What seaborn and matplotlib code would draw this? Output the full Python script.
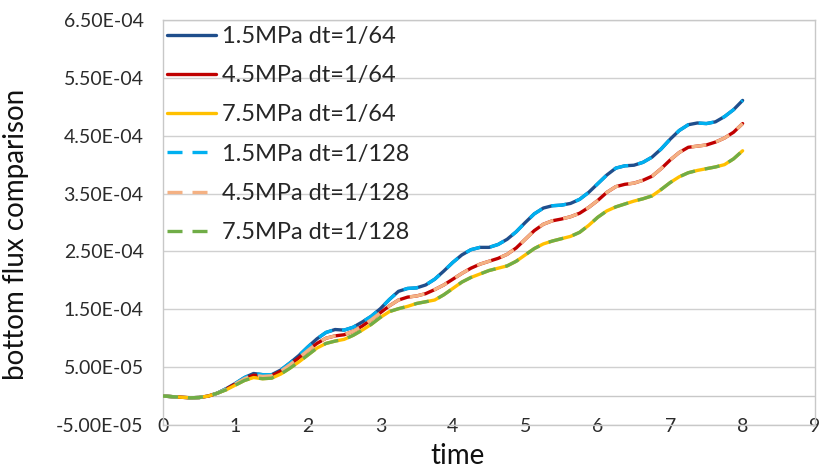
import matplotlib
matplotlib.use("Agg")
import matplotlib.pyplot as plt
import seaborn as sns
import numpy as np
import pandas as pd

# ---------------- Data (flux, in 1e-6 units) ----------------
time = [0, 0.125, 0.25, 0.375, 0.5, 0.625, 0.75, 0.875,
        1, 1.125, 1.25, 1.375, 1.5, 1.625, 1.75, 1.875,
        2, 2.125, 2.25, 2.375, 2.5, 2.625, 2.75, 2.875,
        3, 3.125, 3.25, 3.375, 3.5, 3.625, 3.75, 3.875,
        4, 4.125, 4.25, 4.375, 4.5, 4.625, 4.75, 4.875,
        5, 5.125, 5.25, 5.375, 5.5, 5.625, 5.75, 5.875,
        6, 6.125, 6.25, 6.375, 6.5, 6.625, 6.75, 6.875,
        7, 7.125, 7.25, 7.375, 7.5, 7.625, 7.75, 7.875, 8]

flux_15 = [0, -1, -2, -3, -2.5, 0, 5, 13, 22,
           32, 39, 37, 37, 45, 57, 70, 85,
           99, 110, 115, 114, 119, 128, 138, 151,
           167, 181, 186, 187, 192, 202, 216, 231,
           244, 253, 257, 257, 262, 271, 284, 300,
           315, 325, 329, 330, 333, 340, 352, 367,
           382, 394, 398, 399, 404, 413, 427, 444,
           459, 469, 472, 471, 474, 483, 495, 511]

flux_45 = [0, -1, -2, -3, -2.5, 0, 5, 12, 21,
           30, 36, 34, 35, 43, 54, 66, 79,
           91, 100, 104, 106, 112, 121, 132, 144,
           156, 166, 171, 173, 177, 184, 192, 202,
           212, 221, 228, 233, 238, 245, 256, 271,
           286, 297, 303, 306, 310, 316, 326, 338,
           352, 362, 366, 368, 373, 380, 393, 408,
           421, 430, 432, 434, 439, 446, 456, 471]

flux_75 = [0, -1, -2, -3, -2.5, 0, 5, 11, 19,
           27, 32, 30, 31, 38, 48, 59, 71,
           83, 91, 95, 98, 105, 114, 124, 136,
           146, 151, 155, 160, 163, 166, 175, 186,
           197, 205, 211, 217, 221, 225, 233, 244,
           255, 263, 268, 272, 276, 283, 295, 309,
           320, 327, 332, 337, 341, 346, 357, 369,
           379, 386, 390, 393, 396, 400, 410, 424]

# dt=1/128 runs lie on top of the dt=1/64 runs
flux_15_fine = list(flux_15)
flux_45_fine = list(flux_45)
flux_75_fine = list(flux_75)

labels = ["1.5MPa dt=1/64", "4.5MPa dt=1/64", "7.5MPa dt=1/64",
          "1.5MPa dt=1/128", "4.5MPa dt=1/128", "7.5MPa dt=1/128"]
series = [flux_15, flux_45, flux_75, flux_15_fine, flux_45_fine, flux_75_fine]
colors = ["#1F4E8C", "#C00000", "#FFC000", "#00B0F0", "#F4B183", "#70AD47"]

y_ticks = [-5e-5, 5e-5, 1.5e-4, 2.5e-4, 3.5e-4, 4.5e-4, 5.5e-4, 6.5e-4]
x_ticks = [0, 1, 2, 3, 4, 5, 6, 7, 8, 9]

# ---------------- Plot ----------------
sns.set_theme(style="white")
plt.rcParams["font.family"] = ["Lato", "DejaVu Sans"]

fig = plt.figure(figsize=(8.3, 4.73), dpi=100)
ax = fig.add_axes([0.1964, 0.1015, 0.7856, 0.8562])

for i, (lab, vals, col) in enumerate(zip(labels, series, colors)):
    df = pd.DataFrame({"time": time, "flux": np.array(vals) * 1e-6})
    line_ax = sns.lineplot(data=df, x="time", y="flux", ax=ax, color=col,
                           linewidth=2.4, label=lab, zorder=3 + i)
    if i >= 3:
        line_ax.lines[-1].set_dashes((4.5, 3.0))

ax.set_xlim(0, 9)
ax.set_ylim(-5e-5, 6.5e-4)
ax.set_xticks(x_ticks)
ax.set_yticks(y_ticks)
ax.set_yticklabels(["{:.2E}".format(v) for v in y_ticks])

ax.grid(axis="y", color="#D0D0D0", linewidth=1.0)
ax.axhline(0, color="#C8C8C8", linewidth=1.0, zorder=1)
for sp in ax.spines.values():
    sp.set_color("#C8C8C8")
    sp.set_linewidth(1.0)

ax.tick_params(axis="both", length=0, labelsize=14, colors="#2b2b2b")
ax.tick_params(axis="x", pad=-5)
ax.tick_params(axis="y", pad=14)

ax.set_xlabel("time", fontsize=20, color="#111111")
ax.xaxis.set_label_coords(0.451, -0.045)
ax.set_ylabel("bottom flux comparison", fontsize=20, color="#111111")
ax.yaxis.set_label_coords(-0.205, 0.47)

handles, labs = ax.get_legend_handles_labels()
ax.legend(handles, labs, loc="upper left", bbox_to_anchor=(0.006, 0.985),
          frameon=False, fontsize=17, borderpad=0, borderaxespad=0,
          handlelength=2.08, handletextpad=0.25, labelspacing=0.77)

plt.savefig("out.png", dpi=100)
